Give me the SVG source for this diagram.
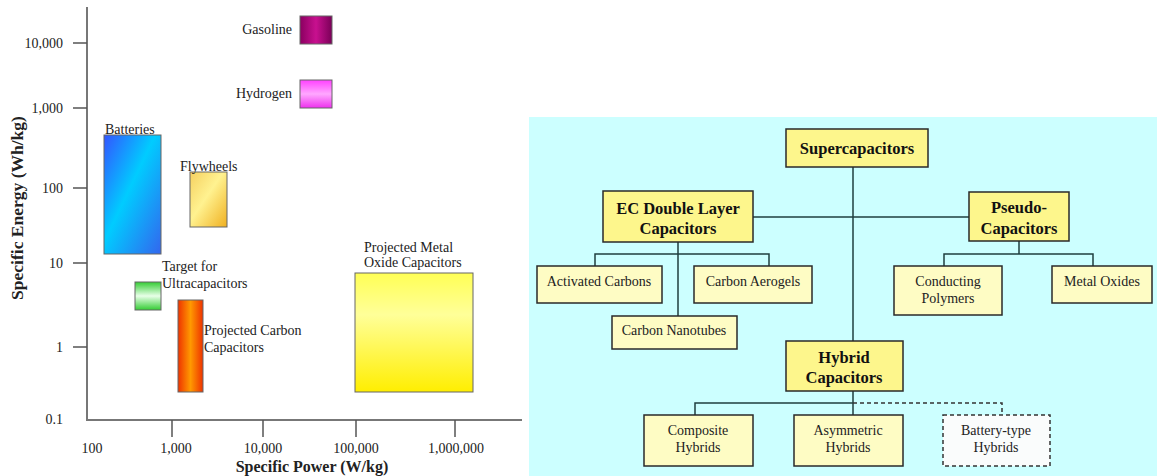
<svg xmlns="http://www.w3.org/2000/svg" width="1157" height="476" viewBox="0 0 1157 476">
<defs>
<style>
text{font-family:"Liberation Serif","Times New Roman",serif;fill:#222}
.t{font-size:14px}
.tick{font-size:14px;text-anchor:end}
.xt{font-size:14px;text-anchor:middle}
.ax{font-size:16px;font-weight:bold;text-anchor:middle}
.ay{font-size:17.5px;font-weight:bold;text-anchor:middle}
.bar{stroke:#666;stroke-width:1}
.axis{stroke:#777;stroke-width:2;fill:none}
.main{fill:#fdf68c;stroke:#2a2a2a;stroke-width:1.5}
.sub{fill:#fefcc4;stroke:#2a2a2a;stroke-width:1.5}
.dash{fill:#fafcfc;stroke:#333;stroke-width:1.5;stroke-dasharray:4,3}
.mt{font-size:16.5px;font-weight:bold;text-anchor:middle;fill:#111}
.st{font-size:14px;text-anchor:middle;fill:#222}
.ln{stroke:#1f3f3f;stroke-width:1.5;fill:none}
.dl{stroke:#333;stroke-width:1.5;fill:none;stroke-dasharray:4,3}
</style>
<linearGradient id="gGas" x1="0" y1="0" x2="1" y2="0"><stop offset="0" stop-color="#8a0060"/><stop offset="0.5" stop-color="#c8108f"/><stop offset="1" stop-color="#7a0058"/></linearGradient>
<linearGradient id="gHyd" x1="0" y1="0" x2="0" y2="1"><stop offset="0" stop-color="#ff40ff"/><stop offset="0.5" stop-color="#ffa8ff"/><stop offset="1" stop-color="#ee30ee"/></linearGradient>
<linearGradient id="gBat" x1="0" y1="0" x2="1" y2="1"><stop offset="0" stop-color="#3355ff"/><stop offset="0.45" stop-color="#00ccff"/><stop offset="1" stop-color="#3366ee"/></linearGradient>
<linearGradient id="gFly" x1="0" y1="0" x2="1" y2="1"><stop offset="0" stop-color="#f5d060"/><stop offset="0.45" stop-color="#fff290"/><stop offset="1" stop-color="#f0b020"/></linearGradient>
<linearGradient id="gTar" x1="0" y1="0" x2="0" y2="1"><stop offset="0" stop-color="#33cc33"/><stop offset="0.5" stop-color="#e8ffe8"/><stop offset="1" stop-color="#33cc33"/></linearGradient>
<linearGradient id="gCar" x1="0" y1="0" x2="1" y2="0"><stop offset="0" stop-color="#ee3300"/><stop offset="0.5" stop-color="#ff9900"/><stop offset="1" stop-color="#ee3300"/></linearGradient>
<linearGradient id="gMet" x1="0" y1="0" x2="0" y2="1"><stop offset="0" stop-color="#ffff55"/><stop offset="0.35" stop-color="#ffff99"/><stop offset="1" stop-color="#ffee00"/></linearGradient>
</defs>
<rect width="1157" height="476" fill="#ffffff"/>

<g id="chart">
<path class="axis" d="M87 7 V420 H522"/>
<g stroke="#555" stroke-width="1.5">
<line x1="73" y1="43" x2="87" y2="43"/>
<line x1="73" y1="108" x2="87" y2="108"/>
<line x1="73" y1="188" x2="87" y2="188"/>
<line x1="73" y1="263" x2="87" y2="263"/>
<line x1="73" y1="347" x2="87" y2="347"/>
<line x1="172" y1="420" x2="172" y2="437"/>
<line x1="263" y1="420" x2="263" y2="437"/>
<line x1="356" y1="420" x2="356" y2="437"/>
<line x1="455" y1="420" x2="455" y2="437"/>
</g>
<text class="tick" x="63" y="48">10,000</text>
<text class="tick" x="63" y="113">1,000</text>
<text class="tick" x="63" y="193">100</text>
<text class="tick" x="63" y="268">10</text>
<text class="tick" x="63" y="352">1</text>
<text class="tick" x="63" y="424">0.1</text>
<text class="xt" x="92" y="453">100</text>
<text class="xt" x="176" y="453">1,000</text>
<text class="xt" x="263" y="453">10,000</text>
<text class="xt" x="356" y="453">100,000</text>
<text class="xt" x="456" y="453">1,000,000</text>
<text class="ax" x="312" y="472">Specific Power (W/kg)</text>
<text class="ay" transform="translate(23 208) rotate(-90)">Specific Energy (Wh/kg)</text>

<rect class="bar" x="300" y="16" width="32" height="28" fill="url(#gGas)"/>
<text class="t" x="292" y="34" text-anchor="end">Gasoline</text>
<rect class="bar" x="300" y="80" width="32" height="28" fill="url(#gHyd)"/>
<text class="t" x="292" y="98" text-anchor="end">Hydrogen</text>
<rect class="bar" x="104" y="135" width="57" height="119" fill="url(#gBat)"/>
<text class="t" x="105" y="134">Batteries</text>
<rect class="bar" x="190" y="172" width="37" height="55" fill="url(#gFly)"/>
<text class="t" x="180" y="171">Flywheels</text>
<rect class="bar" x="135" y="282" width="26" height="28" fill="url(#gTar)"/>
<text class="t" x="162" y="271">Target for</text>
<text class="t" x="162" y="288">Ultracapacitors</text>
<rect class="bar" x="178" y="300" width="25" height="92" fill="url(#gCar)"/>
<text class="t" x="204" y="335">Projected Carbon</text>
<text class="t" x="204" y="352">Capacitors</text>
<rect class="bar" x="355" y="273" width="118" height="119" fill="url(#gMet)"/>
<text class="t" x="364" y="252">Projected Metal</text>
<text class="t" x="364" y="267">Oxide Capacitors</text>
</g>

<rect id="panel" x="529" y="117" width="628" height="359" fill="#ccffff"/>

<g id="connectors">
<path class="ln" d="M853 167 V341"/>
<path class="ln" d="M753 217 H969"/>
<path class="ln" d="M678 242 V316 M595 266 V254 H769 V266"/>
<path class="ln" d="M1019 241 V254 M944 266 V254 H1093 V266"/>
<path class="ln" d="M853 391 V415 M695 415 V403 H853"/>
<path class="dl" d="M853 403 H1002 V415"/>
</g>

<g id="n-super"><rect class="main" x="786" y="129" width="142" height="38"/><text class="mt" x="857" y="154">Supercapacitors</text></g>
<g id="n-ec"><rect class="main" x="603" y="191" width="150" height="51"/><text class="mt" x="678" y="214">EC Double Layer</text><text class="mt" x="678" y="234">Capacitors</text></g>
<g id="n-pseudo"><rect class="main" x="969" y="192" width="100" height="49"/><text class="mt" x="1019" y="213">Pseudo-</text><text class="mt" x="1019" y="234">Capacitors</text></g>
<g id="n-act"><rect class="sub" x="537" y="266" width="125" height="37"/><text class="st" x="599" y="286">Activated Carbons</text></g>
<g id="n-aero"><rect class="sub" x="694" y="266" width="118" height="37"/><text class="st" x="753" y="286">Carbon Aerogels</text></g>
<g id="n-nano"><rect class="sub" x="612" y="316" width="125" height="33"/><text class="st" x="674" y="335">Carbon Nanotubes</text></g>
<g id="n-poly"><rect class="sub" x="894" y="266" width="108" height="49"/><text class="st" x="948" y="286">Conducting</text><text class="st" x="948" y="303">Polymers</text></g>
<g id="n-metal"><rect class="sub" x="1052" y="266" width="100" height="37"/><text class="st" x="1102" y="286">Metal Oxides</text></g>
<g id="n-hybrid"><rect class="main" x="786" y="341" width="117" height="50"/><text class="mt" x="844" y="363">Hybrid</text><text class="mt" x="844" y="383">Capacitors</text></g>
<g id="n-comp"><rect class="sub" x="644" y="415" width="109" height="51"/><text class="st" x="698" y="435">Composite</text><text class="st" x="698" y="452">Hybrids</text></g>
<g id="n-asym"><rect class="sub" x="794" y="415" width="109" height="51"/><text class="st" x="848" y="435">Asymmetric</text><text class="st" x="848" y="452">Hybrids</text></g>
<g id="n-batt"><rect class="dash" x="943" y="415" width="107" height="51"/><text class="st" x="996" y="435">Battery-type</text><text class="st" x="996" y="452">Hybrids</text></g>
</svg>
